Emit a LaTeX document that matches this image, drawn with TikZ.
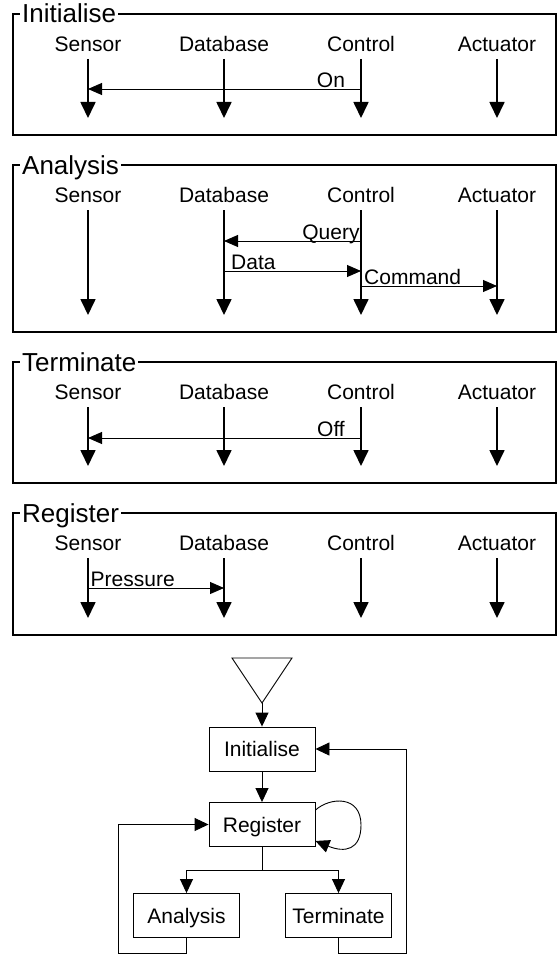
\documentclass[tikz,border=0pt]{standalone}
\usepackage{fontspec}
\setmainfont{Liberation Sans}
\usetikzlibrary{arrows.meta}

\tikzset{
  frame/.style={draw, line width=1.3pt},
  frametitle/.style={fill=white, inner xsep=2pt, inner ysep=1pt, anchor=base west, font=\fontsize{26}{30}\selectfont},
  role/.style={inner sep=0pt, font=\fontsize{21}{25}\selectfont},
  lifeline/.style={line width=1.7pt, -{Triangle[length=16pt,width=15pt]}},
  msg/.style={line width=0.9pt, -{Triangle[length=14pt,width=12pt]}},
  msgtext/.style={inner sep=0pt, anchor=base, font=\fontsize{21}{25}\selectfont},
  state/.style={draw, line width=0.9pt, minimum width=106pt, minimum height=44pt, inner sep=0pt,
    text height=15pt, text depth=0pt, font=\fontsize{21}{25}\selectfont},
  flow/.style={line width=0.9pt, -{Triangle[length=14pt,width=13pt]}},
}

\begin{document}
\begin{tikzpicture}[x=1pt,y=-1pt]
  \useasboundingbox (0,0) rectangle (559,955);

  % one frame per interaction, each with the same four lifelines
  \foreach \p/\name/\top/\bot in {p1/Initialise/14/135, p2/Analysis/165/332, p3/Terminate/362/483, p4/Register/513/635} {
    \draw[frame] (13,\top) rectangle (556,\bot);
    \node[frametitle] (\p title) at (20,\top+9) {\name};
    \foreach \id/\role/\x in {sen/Sensor/88, db/Database/224, ctl/Control/361, act/Actuator/497} {
      \node[role] (\p\id) at (\x,\top+30) {\role};
      \coordinate (\p\id top) at (\x,\top+45);
      \coordinate (\p\id end) at (\x,\bot-17);
      \draw[lifeline] (\p\id top) -- (\p\id end);
    }
  }

  % messages
  \draw[msg] (p1ctltop |- 0,89) -- (p1sentop |- 0,89);
  \node[msgtext] (on) at (331,87.5) {On};
  \draw[msg] (p2ctltop |- 0,241) -- (p2dbtop |- 0,241);
  \node[msgtext] (query) at (331,239.5) {Query};
  \draw[msg] (p2dbtop |- 0,271) -- (p2ctltop |- 0,271);
  \node[msgtext, anchor=base west] (data) at (231,269.5) {Data};
  \draw[msg] (p2ctltop |- 0,286) -- (p2acttop |- 0,286);
  \node[msgtext, anchor=base west] (command) at (364,284.5) {Command};
  \draw[msg] (p3ctltop |- 0,438) -- (p3sentop |- 0,438);
  \node[msgtext] (off) at (331,436.5) {Off};
  \draw[msg] (p4sentop |- 0,588) -- (p4dbtop |- 0,588);
  \node[msgtext, anchor=base west] (pressure) at (90.5,586.5) {Pressure};

  % state chart
  \draw[line width=0.9pt] (232,658) -- (292,658) -- (262,703) -- cycle;
  \coordinate (start) at (262,703);
  \node[state] (init) at (262,749) {Initialise};
  \node[state] (reg) at (262,824.5) {Register};
  \node[state] (ana) at (186.5,915.5) {Analysis};
  \node[state] (ter) at (338.5,915.5) {Terminate};
  \coordinate (fork) at (262,870);

  \draw[flow] (start) -- (init);
  \draw[flow] (init) -- (reg);
  \draw[line width=0.9pt] (reg) -- (fork);
  \draw[flow] (fork) -| (ana);
  \draw[flow] (fork) -| (ter);
  \draw[flow] (ana.south) -- ++(0,15.5) -| ([xshift=-90pt]reg.west) -- (reg.west);
  \draw[flow] (ter.south) -- ++(0,15.5) -| ([xshift=91pt]init.east) -- (init.east);
  \draw[flow] ([yshift=-8pt]reg.north east) .. controls (330,797) and (361,795) .. (361,825)
    .. controls (361,850) and (345,853) .. ([yshift=6pt]reg.south east);
\end{tikzpicture}
\end{document}
